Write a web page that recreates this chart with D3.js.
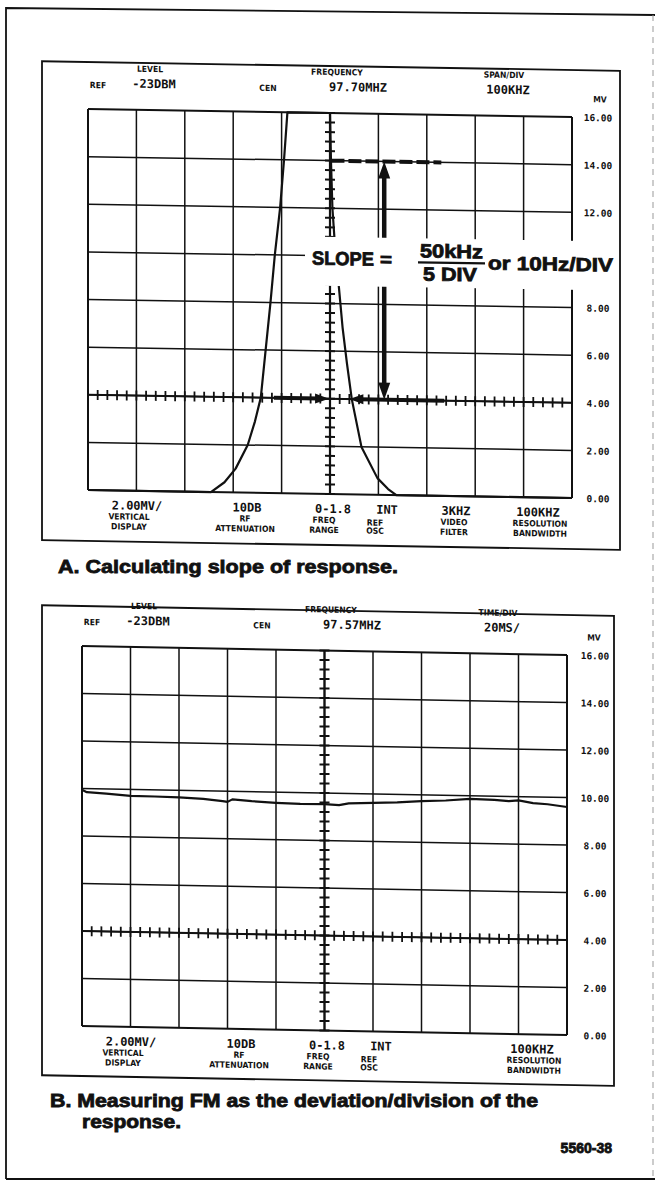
<!DOCTYPE html>
<html>
<head>
<meta charset="utf-8">
<script src="https://cdn.jsdelivr.net/npm/d3@7"></script>
<style>
  body { margin: 0; background: #fff; }
  svg { display: block; }
  .val { font-family: "DejaVu Sans Mono", monospace; font-weight: bold; font-size: 12px; fill: #111; }
  .lab { font-family: "DejaVu Sans Condensed", "DejaVu Sans", sans-serif; font-weight: bold; font-size: 8.5px; fill: #111; }
  .cap { font-family: "Liberation Sans", Arial, sans-serif; font-weight: bold; fill: #111; stroke: #111; stroke-width: 0.8; }
</style>
</head>
<body>
<svg id="chart"></svg>
<script>
// ---- scale labels (mV, right hand side) ----
const mvTicks = [0, 2, 4, 6, 8, 10, 12, 14, 16];

// ---- instrument readouts ----
const headerA = ["REF", "LEVEL", "-23DBM", "CEN", "FREQUENCY", "97.70MHZ", "SPAN/DIV", "100KHZ", "MV"];
const headerB = ["REF", "LEVEL", "-23DBM", "CEN", "FREQUENCY", "97.57MHZ", "TIME/DIV", "20MS/", "MV"];
const controlsA = ["2.00MV/", "VERTICAL", "DISPLAY", "10DB", "RF", "ATTENUATION", "0-1.8", "FREQ", "RANGE",
  "INT", "REF", "OSC", "3KHZ", "VIDEO", "FILTER", "100KHZ", "RESOLUTION", "BANDWIDTH"];
const controlsB = ["2.00MV/", "VERTICAL", "DISPLAY", "10DB", "RF", "ATTENUATION", "0-1.8", "FREQ", "RANGE",
  "INT", "REF", "OSC", "", "", "", "100KHZ", "RESOLUTION", "BANDWIDTH"];

// ---- A: filter response (x in divisions from left edge, y in mV) ----
const curveADiv = [0, 2.54, 2.82, 3.05, 3.3, 3.45, 3.57, 3.67, 3.77, 3.86, 3.97, 4.05, 4.12, 5.0,
  5.02, 5.05, 5.1, 5.17, 5.26, 5.35, 5.45, 5.65, 5.98, 6.2, 6.37, 10];
const curveAMv = [0, 0, 0.42, 1.0, 2.0, 3.0, 4.0, 6.0, 8.0, 10, 12, 14, 16, 16,
  14, 12, 10.5, 9, 7, 5.5, 4, 2, 0.7, 0.25, 0, 0];

// ---- B: demodulated trace ----
const traceBDiv = [0, 0.1, 0.5, 1, 1.5, 2, 2.5, 2.9, 3.0, 3.1, 3.5, 4, 4.5, 5, 5.3, 5.5,
  6, 6.5, 7, 7.5, 8, 8.5, 8.8, 9, 9.3, 9.6, 10];
const traceBMv = [9.95, 9.85, 9.8, 9.73, 9.72, 9.7, 9.66, 9.58, 9.55, 9.66, 9.6, 9.55, 9.52, 9.53, 9.5, 9.58,
  9.62, 9.66, 9.73, 9.78, 9.87, 9.84, 9.8, 9.84, 9.74, 9.7, 9.6];

// ---- A: slope markers (data units) ----
const slopeArrowDiv = 6.12;
const slopeArrowMv = [14, 4];
const levelLineDiv = [5.03, 7.3];
const spanArrowLeft = [3.84, 4.98];
const spanArrowRight = [5.4, 7.36];
const slopeText = ["SLOPE", "=", "50kHz", "5 DIV", "or 10Hz/DIV"];

// ---- captions ----
const captionA = "A. Calculating slope of response.";
const captionB = ["B.  Measuring FM as the deviation/division of the", "response."];
const figNumber = "5560-38";

const svg = d3.select("#chart").attr("width", 655).attr("height", 1187);

// outer page frame
svg.append("path")
  .attr("d", "M6,1179L6,8L655,15")
  .attr("fill", "none").attr("stroke", "#111").attr("stroke-width", 1.8);
svg.append("line").attr("x1", 6).attr("x2", 655).attr("y1", 1179).attr("y2", 1179)
  .attr("stroke", "#111").attr("stroke-width", 1.8);
svg.append("line").attr("x1", 653).attr("x2", 653).attr("y1", 15).attr("y2", 1179)
  .attr("stroke", "#999").attr("stroke-width", 1).attr("stroke-dasharray", "6,5");

// header / control slots relative to graticule origin
const headerSlots = [
  {dx: 10, dy: -21, cls: "lab"}, {dx: 62, dy: -38, cls: "lab"}, {dx: 66, dy: -22, cls: "val"},
  {dx: 180, dy: -21, cls: "lab"}, {dx: 249, dy: -38, cls: "lab"}, {dx: 270, dy: -22, cls: "val"},
  {dx: 416, dy: -38, cls: "lab"}, {dx: 420, dy: -22, cls: "val"}, {dx: 512, dy: -15, cls: "lab"}
];
const controlSlots = [
  {dx: 49, dy: 19, cls: "val"}, {dx: 41, dy: 29, cls: "lab"}, {dx: 41, dy: 39, cls: "lab"},
  {dx: 159, dy: 19, cls: "val"}, {dx: 157, dy: 29, cls: "lab"}, {dx: 157, dy: 39, cls: "lab"},
  {dx: 245, dy: 19, cls: "val"}, {dx: 236, dy: 29, cls: "lab"}, {dx: 236, dy: 39, cls: "lab"},
  {dx: 299, dy: 19, cls: "val"}, {dx: 287, dy: 31, cls: "lab"}, {dx: 287, dy: 39, cls: "lab"},
  {dx: 368, dy: 19, cls: "val"}, {dx: 366, dy: 29, cls: "lab"}, {dx: 366, dy: 39, cls: "lab"},
  {dx: 450, dy: 19, cls: "val"}, {dx: 452, dy: 29, cls: "lab"}, {dx: 452, dy: 39, cls: "lab"}
];

function drawPanel(cfg) {
  const x = d3.scaleLinear().domain([0, 10]).range([0, cfg.gw]);
  const y = d3.scaleLinear().domain([0, 16]).range([cfg.gh, 0]);
  const skew = Math.atan(cfg.drop / cfg.gw) * 180 / Math.PI;
  const g = svg.append("g").attr("transform", `translate(${cfg.gx},${cfg.gy}) skewY(${skew})`);

  // surrounding box
  g.append("rect")
    .attr("x", cfg.box[0]).attr("y", cfg.box[1])
    .attr("width", cfg.box[2] - cfg.box[0]).attr("height", cfg.box[3] - cfg.box[1])
    .attr("fill", "none").attr("stroke", "#111").attr("stroke-width", 1.8);

  // graticule
  g.selectAll("line.vgrid").data(d3.range(0, 11)).join("line").attr("class", "vgrid")
    .attr("x1", d => x(d)).attr("x2", d => x(d)).attr("y1", 0).attr("y2", cfg.gh)
    .attr("stroke", "#111").attr("stroke-width", d => (d === 0 || d === 10) ? 2 : 1.5);
  g.selectAll("line.hgrid").data(mvTicks).join("line").attr("class", "hgrid")
    .attr("x1", 0).attr("x2", cfg.gw).attr("y1", d => y(d)).attr("y2", d => y(d))
    .attr("stroke", "#111").attr("stroke-width", d => (d === 0 || d === 16) ? 2 : 1.5);

  // minor ticks on centre column and on the 4 mV row
  g.selectAll("line.vtick").data(d3.range(0, 16.001, 0.4)).join("line").attr("class", "vtick")
    .attr("x1", x(5) - 5).attr("x2", x(5) + 5).attr("y1", d => y(d)).attr("y2", d => y(d))
    .attr("stroke", "#111").attr("stroke-width", 2);
  g.append("line").attr("x1", x(5)).attr("x2", x(5)).attr("y1", 0).attr("y2", cfg.gh)
    .attr("stroke", "#111").attr("stroke-width", 2.2);
  g.selectAll("line.htick").data(d3.range(0, 10.001, 0.2)).join("line").attr("class", "htick")
    .attr("x1", d => x(d)).attr("x2", d => x(d)).attr("y1", y(4) - 5).attr("y2", y(4) + 5)
    .attr("stroke", "#111").attr("stroke-width", 1.8);
  g.append("line").attr("x1", 0).attr("x2", cfg.gw).attr("y1", y(4)).attr("y2", y(4))
    .attr("stroke", "#111").attr("stroke-width", 2);

  // mV scale on the right (labels hidden by an overlay are not drawn)
  const shown = mvTicks.filter(v => !(cfg.hide || []).includes(v));
  const ax = g.append("g").attr("transform", `translate(${cfg.gw},0)`)
    .call(d3.axisRight(y).tickValues(shown).tickFormat(d3.format(".2f")).tickSize(0).tickPadding(cfg.labelPad));
  ax.select(".domain").remove();
  ax.selectAll("text")
    .attr("text-anchor", "middle").attr("dy", "0.35em")
    .attr("font-family", "DejaVu Sans Mono, monospace").attr("font-weight", "bold")
    .attr("font-size", 9.5).attr("fill", "#111");

  // trace
  g.append("path")
    .datum(d3.zip(cfg.traceX, cfg.traceY))
    .attr("d", d3.line().x(d => x(d[0])).y(d => y(d[1])))
    .attr("fill", "none").attr("stroke", "#111").attr("stroke-width", 2.2).attr("stroke-linejoin", "round");

  // readouts
  const put = (texts, slots, baseY) => {
    g.selectAll(null).data(texts.map((t, i) => ({t, s: slots[i]})).filter(d => d.t)).join("text")
      .attr("class", d => d.s.cls)
      .attr("x", d => d.s.dx).attr("y", d => baseY + d.s.dy)
      .attr("text-anchor", "middle")
      .text(d => d.t);
  };
  put(cfg.header, headerSlots, 0);
  put(cfg.controls, controlSlots, cfg.gh);

  return {g, x, y};
}

// ---- panel A ----
const A = drawPanel({
  gx: 88, gy: 109, gw: 484, gh: 381, drop: 8, labelPad: 26, hide: [10],
  box: [-46, -47, 532, 432],
  traceX: curveADiv, traceY: curveAMv,
  header: headerA, controls: controlsA
});

// slope construction on panel A
const ga = A.g;
ga.append("line")
  .attr("x1", A.x(levelLineDiv[0])).attr("x2", A.x(levelLineDiv[1]))
  .attr("y1", A.y(slopeArrowMv[0])).attr("y2", A.y(slopeArrowMv[0]))
  .attr("stroke", "#111").attr("stroke-width", 4).attr("stroke-dasharray", "13,4");
ga.append("line")
  .attr("x1", A.x(slopeArrowDiv)).attr("x2", A.x(slopeArrowDiv))
  .attr("y1", A.y(slopeArrowMv[0]) + 12).attr("y2", A.y(slopeArrowMv[1]) - 12)
  .attr("stroke", "#111").attr("stroke-width", 4.5);
const ax0 = A.x(slopeArrowDiv);
const yTop = A.y(slopeArrowMv[0]), yBot = A.y(slopeArrowMv[1]);
ga.append("path").attr("d", `M${ax0},${yTop}L${ax0 - 6},${yTop + 17}L${ax0 + 6},${yTop + 17}Z`).attr("fill", "#111");
ga.append("path").attr("d", `M${ax0},${yBot}L${ax0 - 6},${yBot - 17}L${ax0 + 6},${yBot - 17}Z`).attr("fill", "#111");

const y4 = A.y(4);
ga.append("line").attr("x1", A.x(spanArrowLeft[0])).attr("x2", A.x(spanArrowLeft[1]) - 10)
  .attr("y1", y4).attr("y2", y4).attr("stroke", "#111").attr("stroke-width", 4);
ga.append("path").attr("d", `M${A.x(spanArrowLeft[1])},${y4}L${A.x(spanArrowLeft[1]) - 14},${y4 - 5}L${A.x(spanArrowLeft[1]) - 14},${y4 + 5}Z`)
  .attr("fill", "#111");
ga.append("line").attr("x1", A.x(spanArrowRight[0]) + 10).attr("x2", A.x(spanArrowRight[1]))
  .attr("y1", y4).attr("y2", y4).attr("stroke", "#111").attr("stroke-width", 4);
ga.append("path").attr("d", `M${A.x(spanArrowRight[0])},${y4}L${A.x(spanArrowRight[0]) + 14},${y4 - 5}L${A.x(spanArrowRight[0]) + 14},${y4 + 5}Z`)
  .attr("fill", "#111");

// white label panel over the graticule
const y10 = A.y(10);
ga.append("rect").attr("x", 217).attr("y", y10 - 19).attr("width", 310).attr("height", 49).attr("fill", "#fff");
const slopeG = ga.append("g").attr("class", "cap").attr("stroke-width", 0.6);
const fit = sel => sel.attr("lengthAdjust", "spacingAndGlyphs");
slopeG.append("text").attr("x", 224).attr("y", y10 + 9).attr("font-size", 19).attr("textLength", 62).call(fit).text(slopeText[0]);
slopeG.append("text").attr("x", 292).attr("y", y10 + 9).attr("font-size", 19).attr("textLength", 12).call(fit).text(slopeText[1]);
slopeG.append("text").attr("x", 332).attr("y", y10).attr("font-size", 19).attr("textLength", 63).call(fit).text(slopeText[2]);
slopeG.append("line").attr("x1", 330).attr("x2", 397).attr("y1", y10 + 5).attr("y2", y10 + 5).attr("stroke-width", 2.2);
slopeG.append("text").attr("x", 335).attr("y", y10 + 23).attr("font-size", 19).attr("textLength", 54).call(fit).text(slopeText[3]);
slopeG.append("text").attr("x", 400).attr("y", y10 + 11).attr("font-size", 19).attr("textLength", 125).call(fit).text(slopeText[4]);

// ---- panel B ----
drawPanel({
  gx: 82, gy: 646, gw: 485, gh: 380, drop: 9, labelPad: 28,
  box: [-40, -40, 532, 430],
  traceX: traceBDiv, traceY: traceBMv,
  header: headerB, controls: controlsB
});

// ---- captions ----
svg.append("text").attr("class", "cap").attr("x", 58).attr("y", 573)
  .attr("font-size", 19).attr("textLength", 340).call(fit).text(captionA);
svg.append("text").attr("class", "cap").attr("x", 50).attr("y", 1107)
  .attr("font-size", 18).attr("textLength", 488).call(fit).text(captionB[0]);
svg.append("text").attr("class", "cap").attr("x", 82).attr("y", 1128)
  .attr("font-size", 18).attr("textLength", 99).call(fit).text(captionB[1]);
svg.append("text").attr("class", "cap").attr("x", 612).attr("y", 1153)
  .attr("font-size", 14).attr("text-anchor", "end").attr("stroke-width", 0.4).text(figNumber);
</script>
</body>
</html>
